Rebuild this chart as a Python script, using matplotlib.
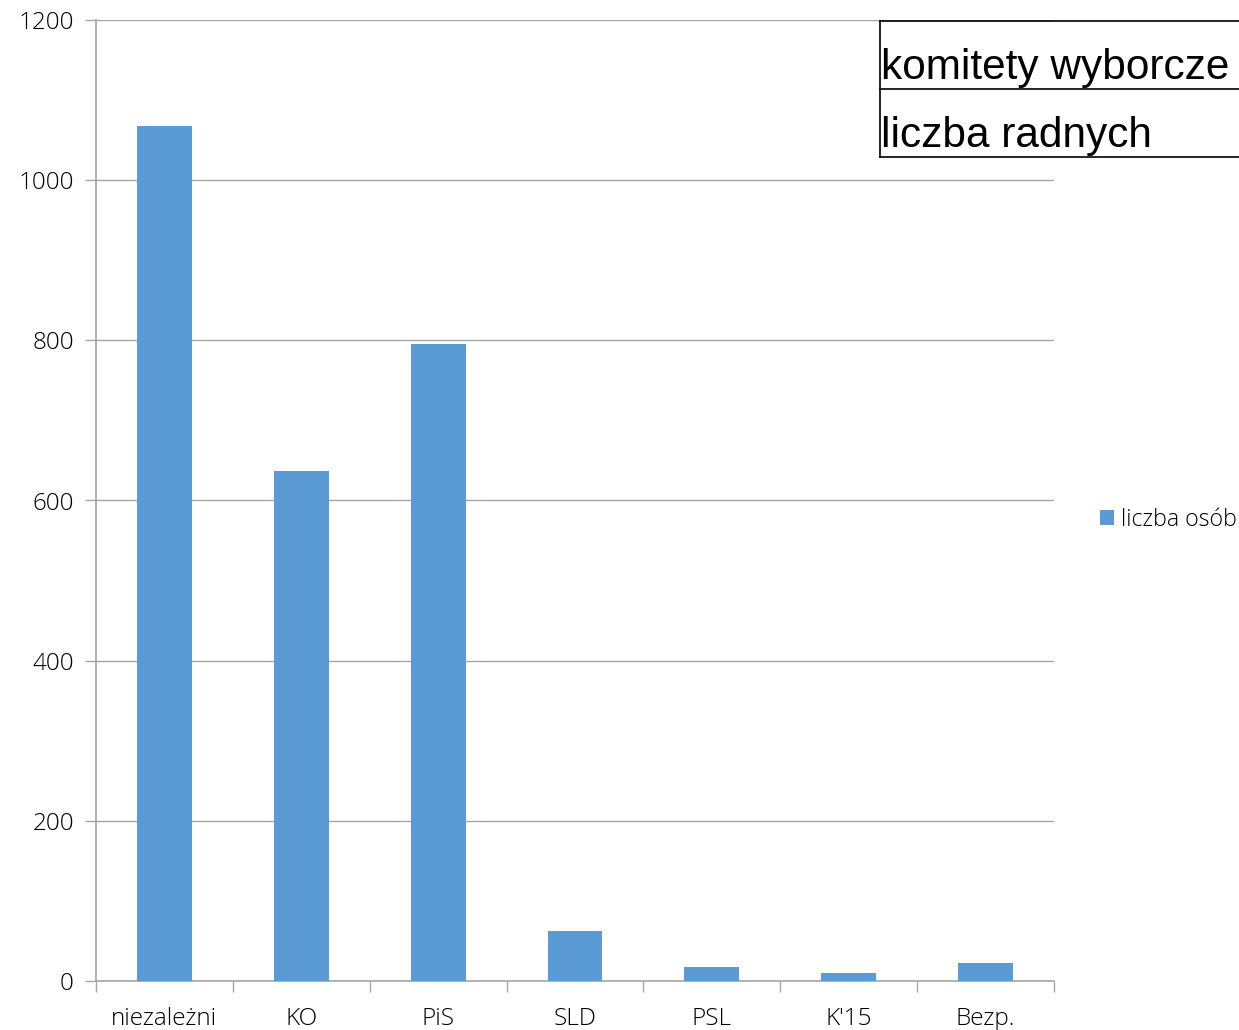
import matplotlib
matplotlib.use("Agg")
import matplotlib.pyplot as plt
import numpy as np
from matplotlib.lines import Line2D

# data
komitety = ["niezależni", "KO", "PiS", "SLD", "PSL", "K'15", "Bezp."]
liczba_osob = [1068, 637, 795, 62, 18, 10, 22]
y_ticks = [0, 200, 400, 600, 800, 1000, 1200]

W, H = 1239, 1030
fig = plt.figure(figsize=(W / 100, H / 100), dpi=100)
ax = fig.add_axes([96 / W, 49 / H, (1054 - 96) / W, (981 - 20) / H])

lab_font = {"family": ["Open Sans", "DejaVu Sans"], "size": 17.5, "weight": "light"}
grey = "#a6a6a6"

x = np.arange(len(komitety))
ax.bar(x, liczba_osob, width=0.4, color="#5b9bd5", label="liczba osób", zorder=3)

ax.set_xlim(-0.5, len(komitety) - 0.5)
ax.set_ylim(0, 1200)
ax.set_yticks(y_ticks)
ax.set_yticklabels([str(v) for v in y_ticks], fontdict=lab_font)
ax.set_xticks(x)
ax.set_xticklabels(komitety, fontdict=lab_font)
ax.set_xticks(np.arange(len(komitety) + 1) - 0.5, minor=True)

ax.tick_params(axis="x", which="major", length=0, pad=19, colors="black")
ax.tick_params(axis="x", which="minor", length=8, color=grey, width=1)
ax.tick_params(axis="y", length=8, color=grey, width=1, pad=8)
ax.grid(axis="y", color=grey, linewidth=1, zorder=0)

for s in ["top", "right"]:
    ax.spines[s].set_visible(False)
for s in ["left", "bottom"]:
    ax.spines[s].set_color(grey)
    ax.spines[s].set_linewidth(1.2)

leg = fig.legend(loc="center left", bbox_to_anchor=(1079 / W, 1 - 520 / H),
                 frameon=False, prop={"family": ["Open Sans", "DejaVu Sans"], "size": 16.7, "weight": "light"},
                 handlelength=0.6, handleheight=0.6, handletextpad=0.3)

# text box in top right
def fx(px):
    return px / W

def fy(py):
    return 1 - py / H

for yy in [21, 89, 157]:
    fig.add_artist(Line2D([fx(880), 1], [fy(yy), fy(yy)], color="black", linewidth=1.2))
fig.add_artist(Line2D([fx(880), fx(880)], [fy(21), fy(157)], color="black", linewidth=1.2))
box_font = {"family": ["Liberation Sans", "DejaVu Sans"], "size": 30.5}
fig.text(fx(881), fy(79), "komitety wyborcze", va="baseline", ha="left", **box_font)
fig.text(fx(881), fy(147), "liczba radnych", va="baseline", ha="left", **box_font)

fig.savefig("out.png", dpi=100)
